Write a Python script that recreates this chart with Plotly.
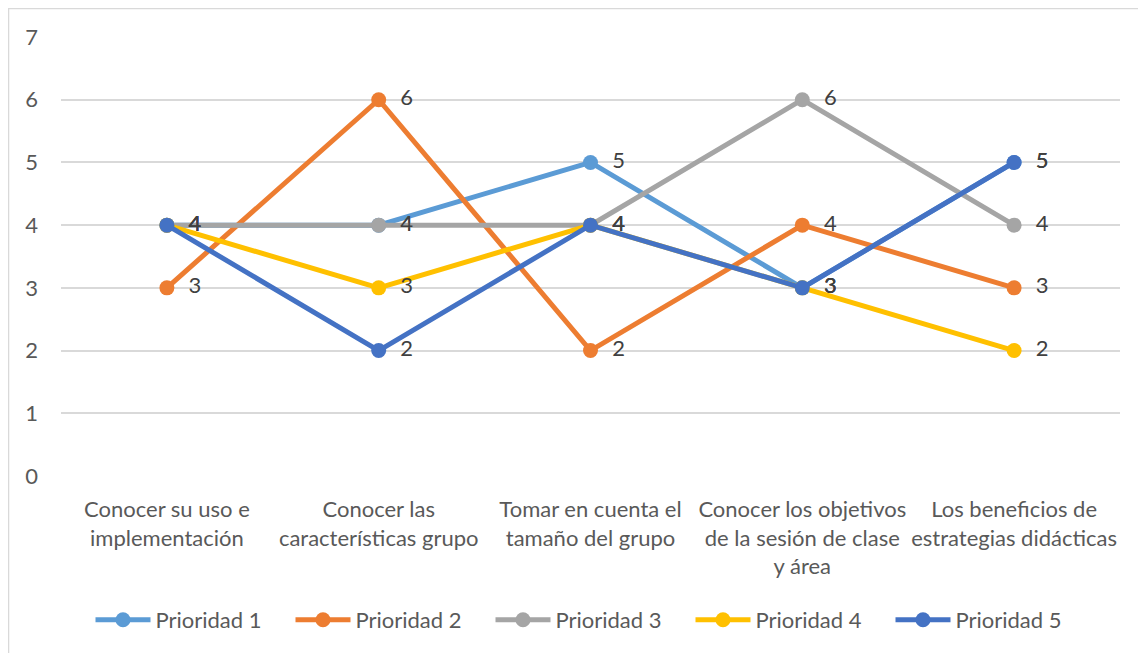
import plotly.graph_objects as go

categories = [
    "Conocer su uso e<br>implementación",
    "Conocer las<br>características grupo",
    "Tomar en cuenta el<br>tamaño del grupo",
    "Conocer los objetivos<br>de la sesión de clase<br>y área",
    "Los beneficios de<br>estrategias didácticas",
]
series_names = ["Prioridad 1", "Prioridad 2", "Prioridad 3", "Prioridad 4", "Prioridad 5"]
prioridad_1 = [4, 4, 5, 3, 5]
prioridad_2 = [3, 6, 2, 4, 3]
prioridad_3 = [4, 4, 4, 6, 4]
prioridad_4 = [4, 3, 4, 3, 2]
prioridad_5 = [4, 2, 4, 3, 5]
colors = ["#5B9BD5", "#ED7D31", "#A5A5A5", "#FFC000", "#4472C4"]
y_ticks = [0, 1, 2, 3, 4, 5, 6, 7]

all_series = [prioridad_1, prioridad_2, prioridad_3, prioridad_4, prioridad_5]
x_idx = list(range(len(categories)))
FONT = "Lato, 'Open Sans', sans-serif"
FS = 22

W, H = 1138, 645
L, R, T, B = 53, 26, 29, 177
PW, PH = W - L - R, H - T - B

fig = go.Figure()
for name, vals, col in zip(series_names, all_series, colors):
    fig.add_trace(go.Scatter(
        x=x_idx, y=vals, name=name,
        mode="lines+markers+text",
        line=dict(color=col, width=5),
        marker=dict(color=col, size=15),
        text=["  " + str(v) for v in vals],
        textposition="middle right",
        textfont=dict(family=FONT, size=FS, color="#404040"),
        cliponaxis=False,
    ))

fig.update_layout(
    width=W, height=H,
    paper_bgcolor="white", plot_bgcolor="white",
    margin=dict(l=L, r=R, t=T, b=B, autoexpand=False),
    font=dict(family=FONT, size=FS, color="#595959"),
    showlegend=True,
    legend=dict(orientation="h", x=0.5, xanchor="center", y=-144 / PH, yanchor="middle",
                font=dict(family=FONT, size=FS, color="#595959"),
                itemwidth=55, entrywidth=130, entrywidthmode="pixels", tracegroupgap=0),
    xaxis=dict(tickmode="array", tickvals=x_idx, ticktext=categories,
               range=[-0.5, len(categories) - 0.5], showgrid=False, zeroline=False,
               showline=False, ticks="", ticklabelstandoff=18,
               tickfont=dict(size=FS, color="#595959")),
    yaxis=dict(tickmode="array", tickvals=y_ticks, range=[0, 7],
               showgrid=True, gridcolor="#D9D9D9", gridwidth=1.5, zeroline=False,
               showline=False, ticks="", ticklabelstandoff=22,
               tickfont=dict(size=FS, color="#595959")),
    shapes=[
        dict(type="line", xref="paper", yref="paper",
             x0=-L / PW + 0.0005, x1=-L / PW + 0.0005, y0=-B / PH, y1=1 + T / PH,
             line=dict(color="#D9D9D9", width=1.5)),
        dict(type="line", xref="paper", yref="paper",
             x0=-L / PW, x1=1 + R / PW, y0=1 + (T - 0.5) / PH, y1=1 + (T - 0.5) / PH,
             line=dict(color="#D9D9D9", width=1.5)),
    ],
)

fig.write_html("out.html")
